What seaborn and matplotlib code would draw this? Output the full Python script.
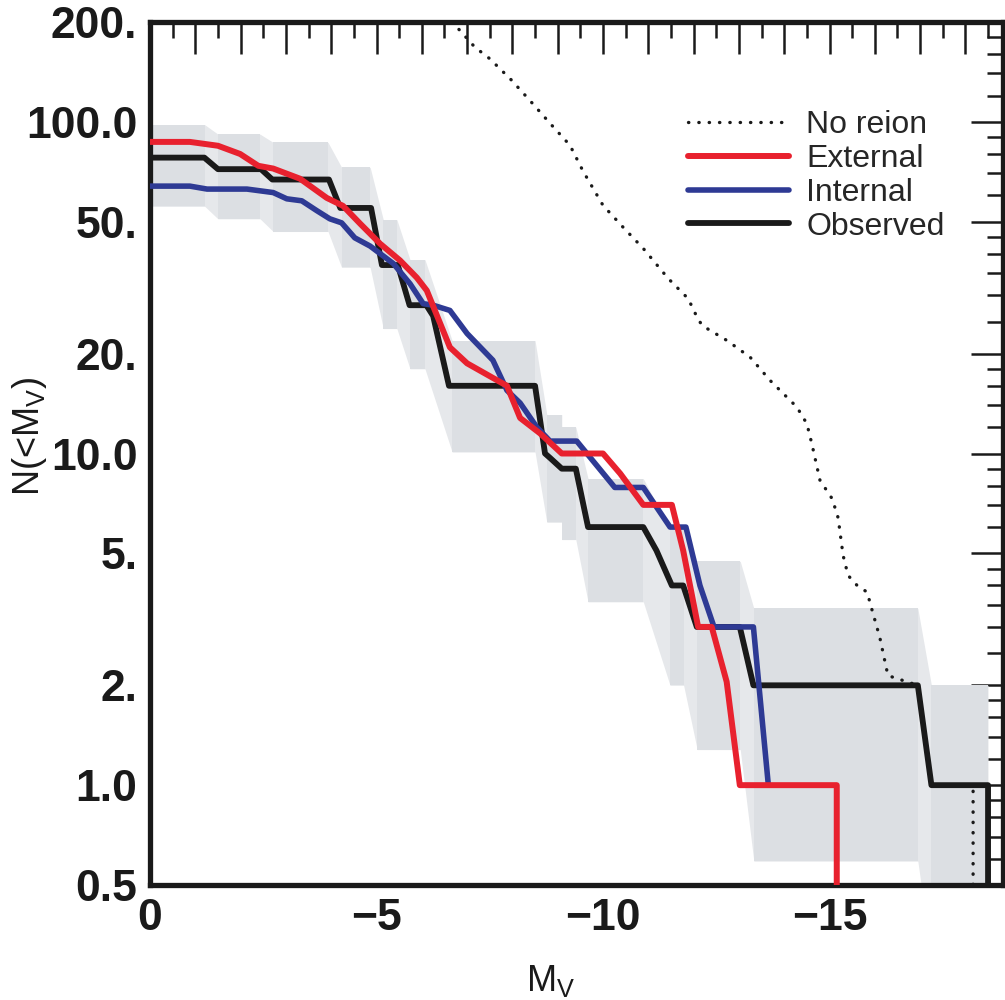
import numpy as np
import matplotlib
matplotlib.use('Agg')
import matplotlib.pyplot as plt
from matplotlib.ticker import FixedLocator, FixedFormatter, MultipleLocator, FuncFormatter, NullFormatter
import seaborn as sns

# observed satellite luminosity function (black steps)
obs_mv = [0, -1.2, -1.5, -2.45, -2.7, -3.95, -4.2, -4.88, -5.12, -5.47, -5.73, -6.1,
          -6.25, -6.6, -8.5, -8.72, -8.83, -9.09, -9.4, -9.67, -10.89, -11.18, -11.52,
          -11.77, -12.07, -13.02, -13.32, -16.95, -17.25, -18.5, -18.5]
obs_n = [78, 78, 72, 72, 67, 67, 55, 55, 37, 37, 28, 28,
         26, 16, 16, 10, 9.7, 9, 9, 6, 6, 5.1, 4,
         4, 3, 3, 2, 2, 1, 1, 0.3]

# uncertainty band on the observed counts: plateau edges, lower and upper values
band_mv = [0, -1.21, -1.5, -2.43, -2.72, -3.93, -4.23, -4.86, -5.15, -5.45, -5.74, -6.07,
           -6.67, -8.5, -8.76, -9.09, -9.09, -9.4, -9.67, -10.89, -11.48, -11.78,
           -12.08, -13.03, -13.33, -16.95, -17.25, -18.5]
band_lo = [55.6, 55.6, 51, 51, 46.7, 46.7, 36.4, 36.4, 23.8, 23.8, 18, 18,
           10.1, 10.1, 6.2, 6.2, 5.5, 5.5, 3.57, 3.57, 2.0, 2.0,
           1.28, 1.28, 0.59, 0.59, 0.3, 0.3]
band_hi = [98, 98, 91.8, 91.8, 86.7, 86.7, 72.9, 72.9, 50.7, 50.7, 38.4, 38.4,
           21.9, 21.9, 13.1, 13.1, 12, 12, 8.4, 8.4, 5.9, 5.9,
           4.73, 4.73, 3.41, 3.41, 2.0, 2.0]

# external reionization model (red)
ext_mv = [0, -0.88, -1.5, -1.99, -2.39, -2.72, -3.31, -3.9, -4.26, -4.64, -5.08, -5.52,
          -5.89, -6.11, -6.62, -7.0, -7.57, -7.88, -8.17, -8.61, -9.09, -10.0, -10.38,
          -10.89, -11.52, -11.77, -12.1, -12.4, -12.73, -13.02, -15.16, -15.16]
ext_n = [87, 87, 84.7, 80, 73.7, 72.3, 67.4, 59, 55.8, 49.3, 42.9, 38.2,
         33.9, 31, 20.9, 18.7, 16.9, 16, 12.8, 11.5, 10, 10, 8.7,
         7, 7, 5.1, 3, 3, 2.05, 1, 1, 0.3]

# internal reionization model (blue)
int_mv = [0, -0.88, -1.26, -2.14, -2.72, -3.02, -3.35, -3.68, -3.97, -4.23, -4.52, -4.86,
          -5.37, -5.74, -6.03, -6.25, -6.62, -7.0, -7.57, -7.88, -8.17, -8.54, -8.83,
          -9.42, -10.26, -10.89, -11.48, -11.83, -12.14, -12.45, -13.32, -13.65]
int_n = [64, 64, 62.7, 62.7, 61.2, 58.6, 57.8, 54, 51, 49.6, 44.7, 42.2,
         37.4, 32.5, 28.3, 28, 27, 23, 19.1, 15.5, 14.2, 12, 10.9,
         10.9, 7.9, 7.9, 6, 6, 4.0, 3, 3, 1.0]

# no reionization (dotted)
noreion_mv = [-6.6, -6.73, -6.88, -7.17, -7.5, -7.97, -8.41, -8.83, -9.27, -9.56, -10.0,
              -10.45, -10.89, -11.44, -11.88, -12.08, -12.19, -12.74, -13.25, -13.69,
              -14.28, -14.5, -14.61, -14.79, -15.06, -15.19, -15.3, -15.41, -15.61,
              -15.83, -15.94, -16.11, -16.29, -16.95, -17.25, -18.17, -18.17]
noreion_n = [215, 196, 186, 168, 155, 134, 115, 99, 85, 71, 56,
             48, 41.5, 33.7, 29.3, 25.7, 24.3, 21.9, 19.5, 16.6,
             13.8, 12.3, 10.7, 8.3, 7.3, 6.4, 4.93, 4.29, 4.0,
             3.82, 3.37, 2.79, 2.14, 2.0, 1.0, 1.0, 0.3]

y_ticks = [0.5, 1, 2, 5, 10, 20, 50, 100, 200]
y_ticklabels = ['0.5', '1.0', '2.', '5.', '10.0', '20.', '50.', '100.0', '200.']

sns.set_theme(style='white')
plt.rcParams['font.family'] = ['Liberation Sans', 'DejaVu Sans']
plt.rcParams['mathtext.fontset'] = 'custom'
plt.rcParams['mathtext.rm'] = 'Liberation Sans'
plt.rcParams['mathtext.it'] = 'Liberation Sans'
plt.rcParams['mathtext.default'] = 'regular'

fig = plt.figure(figsize=(10.05, 10), dpi=100)
ax = fig.add_axes([150 / 1005, 115 / 1000, 853 / 1005, 863 / 1000])
ax.set_yscale('log')

# band: light fill everywhere, darker on the flat parts
band_light = '#e6e8eb'
band_dark = '#dcdfe3'
ax.fill_between(band_mv, band_lo, band_hi, color=band_light, lw=0, zorder=1)
for i in range(0, len(band_mv), 2):
    ax.fill_between(band_mv[i:i + 2], band_lo[i:i + 2], band_hi[i:i + 2],
                    color=band_dark, lw=0, zorder=1)

sns.lineplot(x=noreion_mv, y=noreion_n, ax=ax, sort=False, estimator=None,
             color='#1a1a1a', linewidth=2.4, linestyle=(0, (0.1, 3.0)),
             dash_capstyle='round', label='No reion', zorder=3)
sns.lineplot(x=obs_mv, y=obs_n, ax=ax, sort=False, estimator=None,
             color='#1a1a1a', linewidth=4.2, label='Observed', zorder=4)
sns.lineplot(x=int_mv, y=int_n, ax=ax, sort=False, estimator=None,
             color='#2e3a94', linewidth=4.0, label='Internal', zorder=5)
sns.lineplot(x=ext_mv, y=ext_n, ax=ax, sort=False, estimator=None,
             color='#e8212e', linewidth=4.3, label='External', zorder=6)

ax.set_xlim(0, -18.83)
ax.set_ylim(0.5, 200)

ax.xaxis.set_major_locator(MultipleLocator(1))
ax.xaxis.set_minor_locator(MultipleLocator(0.5))
ax.xaxis.set_major_formatter(FuncFormatter(
    lambda v, p: ('0' if abs(v) < 1e-9 else '\u2212%d' % round(-v)) if abs(v - 5 * round(v / 5)) < 1e-6 else ''))

minor_y = []
for dec in [0.1, 1, 10, 100]:
    minor_y += [m * dec for m in (5, 6, 7, 8, 9)]
    minor_y += [m * dec for m in (1.2, 1.4, 1.6, 1.8)]
    minor_y += [m * dec for m in (2.5, 3, 3.5, 4, 4.5)]
minor_y = [v for v in minor_y if 0.5 < v < 200 and not any(abs(v - t) < 1e-9 for t in y_ticks)]
ax.yaxis.set_major_locator(FixedLocator(y_ticks))
ax.yaxis.set_major_formatter(FixedFormatter(y_ticklabels))
ax.yaxis.set_minor_locator(FixedLocator(minor_y))
ax.yaxis.set_minor_formatter(NullFormatter())

ax.tick_params(which='both', direction='in', top=True, right=True, color='#1a1a1a')
ax.tick_params(which='major', length=23, width=1.8, pad=9, labelsize=32, labelcolor='#1a1a1a')
ax.tick_params(which='minor', length=11.5, width=1.8)
for lab in ax.get_xticklabels() + ax.get_yticklabels():
    lab.set_fontweight('bold')

for s in ax.spines.values():
    s.set_linewidth(3.8)
    s.set_color('#1a1a1a')

ax.set_xlabel('M$_V$', fontsize=26, color='#1a1a1a')
ax.set_ylabel('N(<M$_V$)', fontsize=26, color='#1a1a1a')
ax.xaxis.set_label_coords(0.47, -0.09)
ax.yaxis.set_label_coords(-0.118, 0.52)

handles, labels = ax.get_legend_handles_labels()
order = ['No reion', 'External', 'Internal', 'Observed']
hmap = dict(zip(labels, handles))
ax.legend([hmap[k] for k in order], order, loc='upper left', bbox_to_anchor=(0.631, 0.898),
          frameon=False, fontsize=23, handlelength=3.15, handletextpad=0.55,
          labelspacing=0.12, borderpad=0, borderaxespad=0)

fig.savefig('out.png', dpi=100)
